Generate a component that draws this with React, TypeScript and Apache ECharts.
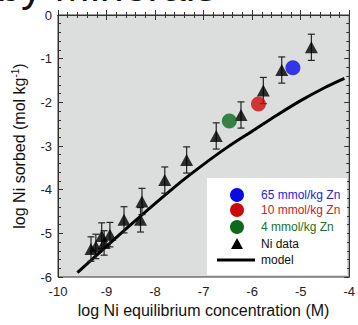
import React, { useEffect, useRef } from "react";
import * as echarts from "echarts";

// Ni data (triangles) with error bars
const niLogC = [-9.32, -9.22, -9.1, -9.05, -8.93, -8.64, -8.3, -8.27, -7.8, -7.35, -6.74, -6.23, -5.77, -5.39, -4.78];
const niLogS = [-5.36, -5.3, -5.06, -5.22, -5.03, -4.69, -4.69, -4.27, -3.78, -3.32, -2.77, -2.29, -1.73, -1.26, -0.74];
const niErr = [0.28, 0.28, 0.3, 0.28, 0.28, 0.3, 0.28, 0.3, 0.3, 0.3, 0.3, 0.3, 0.3, 0.3, 0.3];

// Zn-loaded samples (circles)
const zn65 = [[-5.16, -1.21]];
const zn10 = [[-5.87, -2.04]];
const zn4 = [[-6.47, -2.43]];

// Model curve
const modelLogC = [-9.6, -8.5, -7.5, -7.0, -6.5, -6.0, -5.5, -5.0, -4.5, -4.1];
const modelLogS = [-5.9, -4.8, -3.85, -3.42, -3.02, -2.66, -2.3, -1.96, -1.66, -1.45];

// Axes
const xTicks = [-10, -9, -8, -7, -6, -5, -4];
const yTicks = [-6, -5, -4, -3, -2, -1, 0];

const legendItems = [
  { label: "65 mmol/kg Zn", kind: "circle", fill: "#0a0ae6", text: "#2424e0" },
  { label: "10 mmol/kg Zn", kind: "circle", fill: "#cc0a0a", text: "#d02020" },
  { label: "4 mmol/kg Zn", kind: "circle", fill: "#0b6a1c", text: "#20702c" },
  { label: "Ni data", kind: "triangle", fill: "#000", text: "#111" },
  { label: "model", kind: "line", fill: "#000", text: "#111" },
];

const FONT = "'Liberation Sans', Arial, sans-serif";

export default function App() {
  const ref = useRef<HTMLDivElement>(null);
  useEffect(() => {
    if (!ref.current) return;
    const chart = echarts.init(ref.current, null, { renderer: "svg" });
    const axisCommon = {
      type: "value",
      interval: 1,
      axisLine: { show: true, lineStyle: { color: "#333", width: 1 } },
      axisTick: { show: true, inside: true, length: 5, lineStyle: { color: "#333" } },
      minorTick: { show: true, splitNumber: 5, length: 3, lineStyle: { color: "#333" } },
      splitLine: { show: false },
    };
    const niData = niLogC.map((x, i) => [x, niLogS[i], niErr[i]]);
    const modelData = modelLogC.map((x, i) => [x, modelLogS[i]]);

    const legendX = 207, legendY = 178, rowY = [195, 210, 227, 244, 260];
    const legendGraphics: any[] = [
      { type: "rect", shape: { x: legendX, y: legendY, width: 140, height: 97 }, style: { fill: "#fff" }, z: 100 },
    ];
    legendItems.forEach((it, i) => {
      const cy = rowY[i];
      if (it.kind === "circle") {
        legendGraphics.push({ type: "circle", shape: { cx: 237, cy, r: 7 }, style: { fill: it.fill }, z: 101 });
      } else if (it.kind === "triangle") {
        legendGraphics.push({
          type: "polygon",
          shape: { points: [[237, cy - 6], [243, cy + 5], [231, cy + 5]] },
          style: { fill: it.fill },
          z: 101,
        });
      } else {
        legendGraphics.push({
          type: "line",
          shape: { x1: 217, y1: cy, x2: 255, y2: cy },
          style: { stroke: it.fill, lineWidth: 3 },
          z: 101,
        });
      }
      legendGraphics.push({
        type: "text",
        x: 261,
        y: cy,
        style: { text: it.label, fill: it.text, font: `12px ${FONT}`, verticalAlign: "middle", align: "left" },
        z: 101,
      });
    });

    chart.setOption({
      animation: false,
      textStyle: { fontFamily: FONT },
      grid: {
        left: 58, top: 15, right: 5, bottom: 48,
        show: true, backgroundColor: "#dcdedd", borderColor: "#333", borderWidth: 1,
      },
      xAxis: [
        {
          ...axisCommon,
          position: "bottom",
          min: xTicks[0],
          max: xTicks[xTicks.length - 1],
          axisLabel: { color: "#222", fontSize: 13, margin: 8, fontFamily: FONT },
          name: "log Ni equilibrium concentration (M)",
          nameLocation: "middle",
          nameGap: 22,
          nameTextStyle: { fontSize: 16, color: "#111", fontFamily: FONT },
        },
        {
          ...axisCommon,
          position: "top",
          min: xTicks[0],
          max: xTicks[xTicks.length - 1],
          axisLabel: { show: false },
        },
      ],
      yAxis: [
        {
          ...axisCommon,
          position: "left",
          min: yTicks[0],
          max: yTicks[yTicks.length - 1],
          axisLabel: { color: "#222", fontSize: 13, margin: 6, fontFamily: FONT },
          name: "log Ni sorbed (mol kg{sup|-1})",
          nameLocation: "middle",
          nameGap: 30,
          nameRotate: 90,
          nameTextStyle: {
            fontSize: 16, color: "#111", fontFamily: FONT,
            rich: { sup: { fontSize: 10, verticalAlign: "top", color: "#111", fontFamily: FONT, padding: [0, 0, 8, 0] } },
          },
        },
        {
          ...axisCommon,
          position: "right",
          min: yTicks[0],
          max: yTicks[yTicks.length - 1],
          axisLabel: { show: false },
        },
      ],
      graphic: [
        {
          type: "text",
          x: -3,
          y: -14,
          style: { text: "by Minerals", fill: "#111", font: `43px ${FONT}`, verticalAlign: "middle" },
        },
        ...legendGraphics,
      ],
      series: [
        {
          type: "line",
          data: modelData,
          smooth: 0.3,
          showSymbol: false,
          lineStyle: { color: "#000", width: 3 },
          z: 2,
        },
        {
          type: "custom",
          data: niData,
          z: 3,
          renderItem: (params: any, api: any) => {
            const x = api.value(0), y = api.value(1), e = api.value(2);
            const top = api.coord([x, y + e]);
            const bot = api.coord([x, y - e]);
            const hw = 3.5;
            const st = { stroke: "#222", lineWidth: 1.2 };
            return {
              type: "group",
              children: [
                { type: "line", shape: { x1: top[0], y1: top[1], x2: bot[0], y2: bot[1] }, style: st },
                { type: "line", shape: { x1: top[0] - hw, y1: top[1], x2: top[0] + hw, y2: top[1] }, style: st },
                { type: "line", shape: { x1: bot[0] - hw, y1: bot[1], x2: bot[0] + hw, y2: bot[1] }, style: st },
              ],
            };
          },
        },
        {
          type: "scatter",
          data: niData.map((d) => [d[0], d[1]]),
          symbol: "triangle",
          symbolSize: [13, 12],
          itemStyle: { color: "#000" },
          z: 4,
        },
        { type: "scatter", data: zn65, symbolSize: 15, itemStyle: { color: legendItems[0].fill }, z: 5 },
        { type: "scatter", data: zn10, symbolSize: 15, itemStyle: { color: legendItems[1].fill }, z: 5 },
        { type: "scatter", data: zn4, symbolSize: 15, itemStyle: { color: legendItems[2].fill }, z: 5 },
      ],
    });
    return () => chart.dispose();
  }, []);
  return <div ref={ref} style={{ position: "absolute", left: 0, top: 0, width: 358, height: 325 }} />;
}
